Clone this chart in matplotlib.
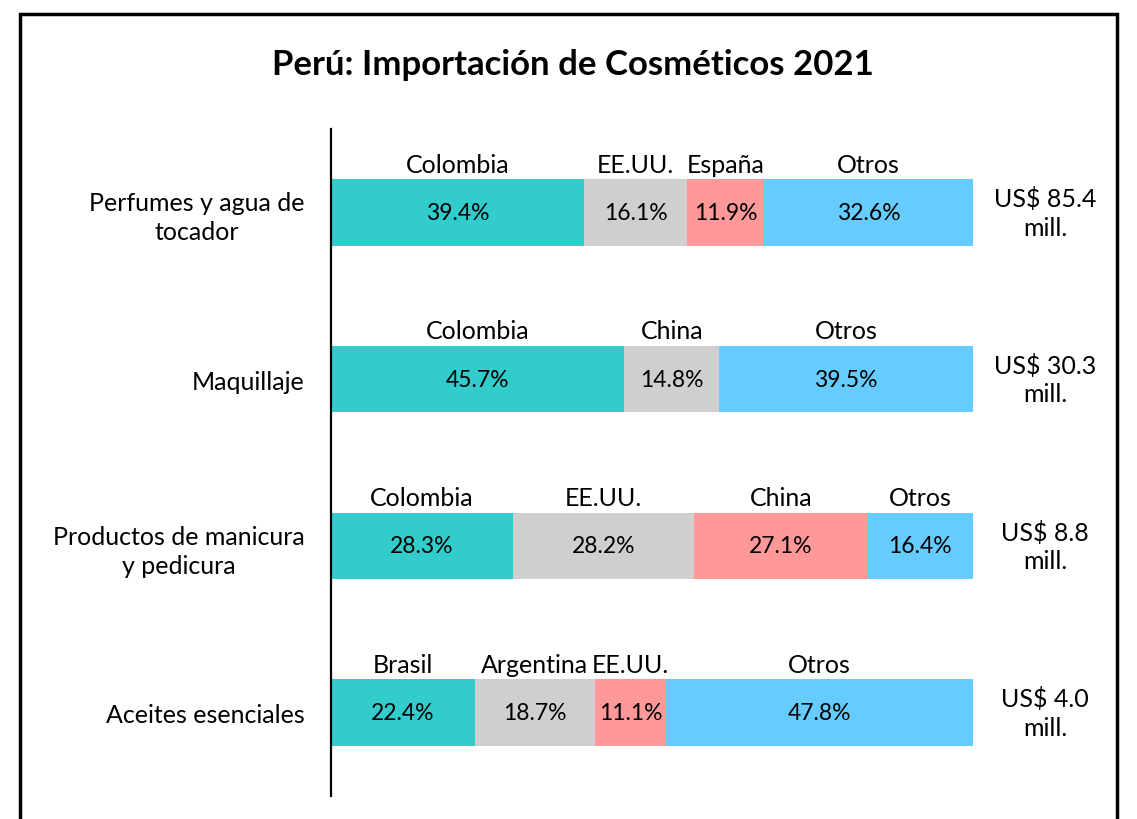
from matplotlib import pyplot as plt
from matplotlib.patches import Rectangle
import numpy as np

plt.rcParams['font.family'] = ['Lato', 'DejaVu Sans']

# Data
categories = ["Perfumes y agua de\ntocador", "Maquillaje", "Productos de manicura\ny pedicura", "Aceites esenciales"]
countries = [["Colombia", "EE.UU.", "España", "Otros"],
             ["Colombia", "China", "Otros"],
             ["Colombia", "EE.UU.", "China", "Otros"],
             ["Brasil", "Argentina", "EE.UU.", "Otros"]]
shares = [[39.4, 16.1, 11.9, 32.6],
          [45.7, 14.8, 39.5],
          [28.3, 28.2, 27.1, 16.4],
          [22.4, 18.7, 11.1, 47.8]]
totals = ["US$ 85.4\nmill.", "US$ 30.3\nmill.", "US$ 8.8\nmill.", "US$ 4.0\nmill."]

palettes = [["#33CCCC", "#D0CECE", "#FF9999", "#66CCFF"],
            ["#33CCCC", "#D0CECE", "#66CCFF"],
            ["#33CCCC", "#D0CECE", "#FF9999", "#66CCFF"],
            ["#33CCCC", "#D0CECE", "#FF9999", "#66CCFF"]]

f = plt.figure(figsize=[11.37, 8.2], dpi=100)
ax = f.add_axes([331/1137, 1-797/820, (973-331)/1137, (797-130)/820])

for i in range(len(categories)):
    left = 0
    for name, val, col in zip(countries[i], shares[i], palettes[i]):
        ax.barh(i, val, left=left, height=0.4, color=col)
        cx = left + val/2
        ax.text(cx, i, "%.1f%%" % val, ha='center', va='center', fontsize=16.5)
        ax.text(cx, i-0.22, name, ha='center', va='bottom', fontsize=18)
        left += val
    ax.annotate(totals[i], (100, i), xytext=(52, 0), textcoords='offset points',
                ha='center', va='center', fontsize=18, linespacing=1.3,
                annotation_clip=False)

ax.set_xlim(0, 100)
ax.set_ylim(3.5, -0.5)
ax.set_yticks(range(len(categories)))
ax.set_yticklabels(categories, fontsize=18, multialignment='center', linespacing=1.3)
ax.tick_params(axis='y', length=0, pad=19)
ax.set_xticks([])
for s in ['top', 'right', 'bottom']:
    ax.spines[s].set_visible(False)
ax.spines['left'].set_linewidth(1.6)

f.text(0.504, 1-65/820, "Perú: Importación de Cosméticos 2021", ha='center', va='center',
       fontsize=25, fontweight='bold')

f.patches.append(Rectangle((20/1137, -0.1), (1117-20)/1137, 1.1-15/820, transform=f.transFigure,
                           fill=False, edgecolor='black', linewidth=2.5, clip_on=False))

plt.savefig('out.png', dpi=100)
